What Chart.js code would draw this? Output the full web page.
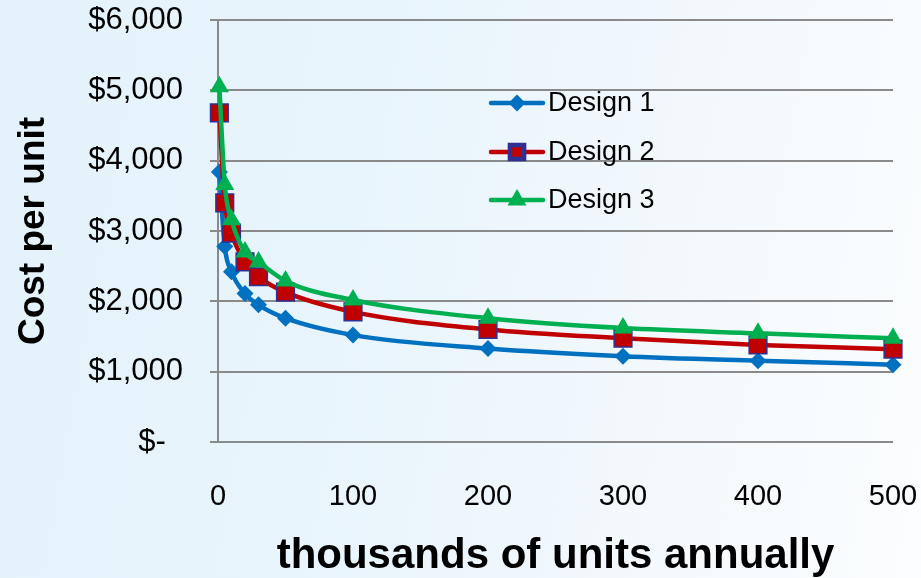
<!DOCTYPE html>
<html>
<head>
<meta charset="utf-8">
<script src="https://cdn.jsdelivr.net/npm/chart.js@4.4.0/dist/chart.umd.min.js"></script>
<style>
  html, body { margin: 0; padding: 0; }
  body {
    width: 921px; height: 578px; overflow: hidden;
    background: linear-gradient(100deg, #e3f2fb 0%, #eaf5fc 45%, #f6fafd 80%, #fbfdfe 100%);
  }
  #wrap { position: relative; width: 921px; height: 578px; }
</style>
</head>
<body>
<div id="wrap"><canvas id="costChart" width="921" height="578"></canvas></div>
<script>
// 年产量（千件）
const volumes = [1, 5, 10, 20, 30, 50, 100, 200, 300, 400, 500];

// 单件成本（美元）
const design1 = [3840, 2780, 2420, 2110, 1950, 1760, 1520, 1330, 1220, 1155, 1100];
const design2 = [4680, 3400, 2970, 2560, 2350, 2130, 1850, 1600, 1475, 1380, 1320];
const design3 = [5050, 3660, 3160, 2700, 2560, 2290, 2020, 1760, 1620, 1545, 1475];

const seriesNames = ['Design 1', 'Design 2', 'Design 3'];
const xTicks = [0, 100, 200, 300, 400, 500];
const yTicks = [0, 1000, 2000, 3000, 4000, 5000, 6000];

const FONT = '"Liberation Sans", Arial, sans-serif';

const toPoints = (vals) => vals.map((v, i) => ({ x: volumes[i], y: v }));

const styles = [
  { color: '#0070C0', pointStyle: 'rectRot', radius: 8.5, border: '#0070C0', borderW: 0 },
  { color: '#C00000', pointStyle: 'rect', radius: 12.5, border: '#2E3192', borderW: 1.5 },
  { color: '#00B050', pointStyle: 'triangle', radius: 11, border: '#00B050', borderW: 0 }
];

const makeDataset = (label, vals, s, order) => ({
  label: label,
  data: toPoints(vals),
  borderColor: s.color,
  backgroundColor: s.color,
  borderWidth: 4.5,
  cubicInterpolationMode: 'monotone',
  pointStyle: s.pointStyle,
  pointRadius: s.radius,
  pointBackgroundColor: s.color,
  pointBorderColor: s.border,
  pointBorderWidth: s.borderW,
  clip: false,
  order: order
});

// 图内图例（手绘）
const insideLegend = {
  id: 'insideLegend',
  afterDraw(chart) {
    const ctx = chart.ctx;
    const rows = [103, 152, 200];
    ctx.save();
    seriesNames.forEach((name, i) => {
      const s = styles[i];
      const y = rows[i];
      ctx.strokeStyle = s.color;
      ctx.lineWidth = 4.5;
      ctx.lineCap = 'round';
      ctx.beginPath();
      ctx.moveTo(491, y);
      ctx.lineTo(543, y);
      ctx.stroke();
      ctx.fillStyle = s.color;
      ctx.strokeStyle = s.border;
      Chart.helpers.drawPoint(ctx, {
        pointStyle: s.pointStyle,
        radius: s.pointStyle === 'rect' ? 10 : s.radius,
        rotation: 0,
        borderWidth: s.borderW
      }, 517, y);
      ctx.fillStyle = '#000';
      ctx.font = '27px ' + FONT;
      ctx.textAlign = 'left';
      ctx.textBaseline = 'middle';
      ctx.fillText(name, 548, y + 1);
    });
    ctx.restore();
  }
};

new Chart(document.getElementById('costChart').getContext('2d'), {
  type: 'line',
  data: {
    datasets: [
      makeDataset(seriesNames[0], design1, styles[0], 2),
      makeDataset(seriesNames[1], design2, styles[1], 1),
      makeDataset(seriesNames[2], design3, styles[2], 0)
    ]
  },
  options: {
    responsive: false,
    animation: false,
    layout: { padding: { top: 20, right: 28, left: 0, bottom: 0 } },
    plugins: {
      legend: { display: false },
      tooltip: { enabled: false }
    },
    scales: {
      x: {
        type: 'linear',
        min: 0,
        max: 500,
        afterFit: (scale) => {
          scale.height = 136;
          scale.paddingLeft = 0;
          scale.paddingRight = 0;
        },
        afterBuildTicks: (scale) => { scale.ticks = xTicks.map(v => ({ value: v })); },
        grid: { display: false },
        border: { display: false },
        ticks: {
          color: '#000',
          padding: 30,
          font: { family: FONT, size: 29 },
          maxRotation: 0
        },
        title: {
          display: true,
          text: 'thousands of units annually',
          color: '#000',
          padding: { top: 0, bottom: -4 },
          font: { family: FONT, size: 42, weight: 'bold' }
        }
      },
      y: {
        min: 0,
        max: 6000,
        afterFit: (scale) => {
          scale.width = 218;
          scale.paddingTop = 0;
          scale.paddingBottom = 0;
        },
        afterBuildTicks: (scale) => { scale.ticks = yTicks.map(v => ({ value: v })); },
        grid: { color: '#8a8a8a', lineWidth: 2, tickLength: 8, tickColor: '#8a8a8a' },
        border: { display: true, color: '#8a8a8a', width: 2 },
        ticks: {
          color: '#000',
          padding: 27,
          font: { family: FONT, size: 31 },
          callback: (v) => v === 0 ? '$-  ' : '$' + v.toLocaleString('en-US')
        },
        title: {
          display: true,
          text: 'Cost per unit',
          color: '#000',
          padding: { top: 12, bottom: 0 },
          font: { family: FONT, size: 37, weight: 'bold' }
        }
      }
    }
  },
  plugins: [insideLegend]
});
</script>
</body>
</html>
